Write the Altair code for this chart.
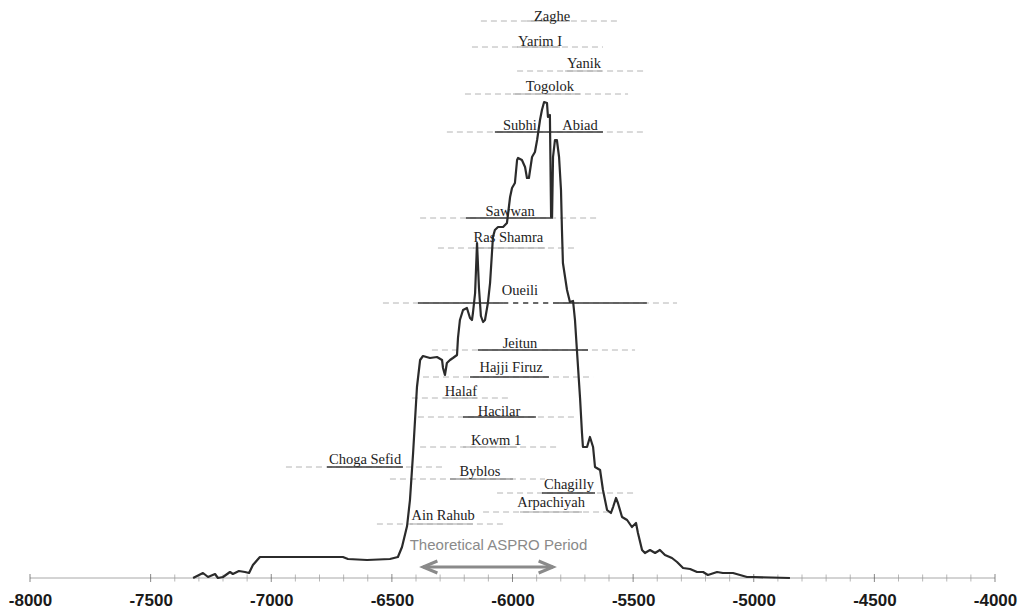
import altair as alt
import pandas as pd

# ---------------- summed probability curve (relative units) ----------------
curve_year = [-7324, -7283, -7262, -7233, -7221, -7200, -7171, -7159, -7134, -7109,
              -7092, -7076, -7047, -6964, -6798, -6703, -6682, -6603, -6508, -6475,
              -6458, -6437, -6425, -6412, -6396, -6383, -6371, -6342, -6313, -6292,
              -6288, -6280, -6272, -6259, -6247, -6230, -6226, -6218, -6205, -6189,
              -6176, -6168, -6164, -6155, -6147, -6139, -6131, -6122, -6114, -6102,
              -6093, -6081, -6073, -6060, -6039, -6023, -6010, -6002, -5990, -5981,
              -5977, -5961, -5948, -5940, -5932, -5919, -5907, -5898, -5886, -5878,
              -5869, -5857, -5853, -5845, -5840, -5836, -5832, -5824, -5816, -5807,
              -5799, -5795, -5791, -5774, -5762, -5749, -5741, -5733, -5720, -5712,
              -5708, -5691, -5679, -5666, -5658, -5637, -5625, -5608, -5592, -5583,
              -5571, -5563, -5546, -5525, -5505, -5488, -5480, -5463, -5451, -5430,
              -5409, -5389, -5368, -5339, -5318, -5293, -5264, -5235, -5210, -5190,
              -5152, -5128, -5086, -5057, -5028, -5003, -4850]
curve_value = [0, 5, 1, 4, 0, 1, 6, 4, 7, 6,
               5, 13, 21, 21, 21, 21, 19, 18, 19, 21,
               31, 52, 78, 125, 191, 218, 222, 220, 221, 218,
               210, 203, 215, 218, 220, 223, 240, 258, 268, 270,
               260, 258, 265, 285, 335, 290, 262, 256, 258, 275,
               295, 341, 348, 351, 351, 355, 381, 390, 395, 418,
               420, 418, 411, 400, 400, 421, 426, 438, 458, 468,
               476, 475, 461, 463, 361, 361, 421, 438, 438, 421,
               388, 348, 315, 288, 276, 277, 258, 228, 180, 145,
               131, 131, 141, 131, 111, 108, 88, 68, 65, 71,
               80, 75, 61, 58, 51, 55, 45, 28, 25, 28,
               25, 28, 23, 20, 16, 10, 9, 6, 6, 3,
               6, 5, 5, 3, 1, 1, 0]

# ---------------- sites: full (dashed) ranges ----------------
site_names = ["Zaghe", "Yarim I", "Yanik", "Togolok", "Subhi Abiad", "Sawwan", "Ras Shamra",
              "Oueili", "Jeitun", "Hajji Firuz", "Halaf", "Hacilar", "Kowm 1", "Choga Sefid",
              "Byblos", "Chagilly", "Arpachiyah", "Ain Rahub"]
site_level = [557, 531, 507, 484, 446, 360, 330, 275, 228, 201, 180, 161, 131, 111, 99, 85, 66, 54]
range_start = [-6131, -6168, -5981, -6197, -6272, -6383, -6309, -6537, -6334, -6371,
               -6417, -6392, -6383, -6939, -6508, -6064, -6122, -6562]
range_end = [-5567, -5625, -5443, -5521, -5443, -5637, -5741, -5318, -5492, -5666,
             -6019, -5729, -5803, -6280, -5865, -5492, -5596, -6039]

# ---------------- sites: core (solid) ranges ----------------
core_site = ["Zaghe", "Yarim I", "Yanik", "Togolok", "Subhi Abiad", "Sawwan", "Ras Shamra",
             "Oueili", "Oueili", "Jeitun", "Hajji Firuz", "Halaf", "Hacilar", "Kowm 1",
             "Choga Sefid", "Byblos", "Chagilly", "Arpachiyah", "Ain Rahub"]
core_start = [-5940, -5981, -5782, -5998, -6073, -6193, -6164, -6392, -5832, -6143,
              -6176, -6288, -6205, -6205, -6769, -6259, -5878, -5969, -6425]
core_end = [-5762, -5803, -5629, -5720, -5625, -5832, -5865, -6039, -5443, -5687,
            -5849, -6147, -5903, -5981, -6454, -5998, -5658, -5712, -6164]
core_tone = ["light", "light", "light", "light", "dark", "dark", "light", "dark", "dark", "dark",
             "dark", "light", "dark", "light", "dark", "mid", "dark", "light", "light"]

# Oueili uncertain gap (dark dashed)
gap_site = ["Oueili"]
gap_start = [-6039]
gap_end = [-5832]

# ---------------- site labels ----------------
label_text = ["Zaghe", "Yarim I", "Yanik", "Togolok", "Subhi", "Abiad", "Sawwan", "Ras  Shamra",
              "Oueili", "Jeitun", "Hajji Firuz", "Halaf", "Hacilar", "Kowm 1", "Choga Sefid",
              "Byblos", "Chagilly", "Arpachiyah", "Ain Rahub"]
label_year = [-5836, -5886, -5704, -5845, -5969, -5720, -6010, -6017, -5969, -5969,
              -6006, -6214, -6056, -6068, -6611, -6135, -5766, -5840, -6288]
label_level = [557, 532, 510, 487, 448, 448, 362, 336, 283, 230, 206,
               182, 162, 133, 114, 102, 89, 71, 58]

# ---------------- theoretical period ----------------
aspro_label = "Theoretical ASPRO Period"
aspro_start = -6371
aspro_end = -5832
aspro_text_year = -6058
aspro_text_level = 33
aspro_arrow_level = 11

# ---------------- axis ticks ----------------
major_ticks = [-8000, -7500, -7000, -6500, -6000, -5500, -5000, -4500, -4000]
minor_ticks = [y for y in range(-7400, -4000, 100) if y % 500 != 0]

# ---------------- build tables ----------------
lvl = dict(zip(site_names, site_level))
curve_df = pd.DataFrame({"year": curve_year, "value": curve_value})
range_df = pd.DataFrame({"site": site_names, "start": range_start, "end": range_end, "level": site_level})
core_df = pd.DataFrame({"site": core_site, "start": core_start, "end": core_end, "tone": core_tone,
                        "level": [lvl[s] for s in core_site]})
gap_df = pd.DataFrame({"start": gap_start, "end": gap_end, "level": [lvl[s] for s in gap_site]})
label_df = pd.DataFrame({"text": label_text, "year": label_year, "level": label_level})
aspro_df = pd.DataFrame({"text": [aspro_label], "year": [aspro_text_year], "level": [aspro_text_level]})
arrow_df = pd.DataFrame({"start": [aspro_start], "end": [aspro_end], "level": [aspro_arrow_level]})
left_head_df = pd.DataFrame({"year": [aspro_start], "level": [aspro_arrow_level]})
right_head_df = pd.DataFrame({"year": [aspro_end], "level": [aspro_arrow_level]})
major_df = pd.DataFrame({"year": major_ticks, "level": [0] * len(major_ticks)})
minor_df = pd.DataFrame({"year": minor_ticks, "level": [0] * len(minor_ticks)})
axis_df = pd.DataFrame({"start": [major_ticks[0]], "end": [major_ticks[-1]], "level": [0]})

xscale = alt.Scale(domain=[-8000, -4000], nice=False, zero=False)
yscale = alt.Scale(domain=[0, 565], nice=False, zero=False)

x_axis = alt.Axis(values=major_ticks, labelExpr="'' + datum.value", labelFont="Liberation Sans",
                  labelFontSize=17, labelFontWeight="bold", labelColor="#1a1a1a",
                  ticks=False, tickSize=0, domain=False, grid=False, title=None,
                  labelPadding=14, labelFlush=False, labelOverlap=False)


def X(field):
    return alt.X(field, scale=xscale, axis=x_axis)


Y = alt.Y("level:Q", scale=yscale, axis=None)

axis_line = alt.Chart(axis_df).mark_rule(color="#a8a8a8", strokeWidth=1).encode(
    x=X("start:Q"), x2="end:Q", y=Y)

minor = alt.Chart(minor_df).mark_tick(orient="vertical", thickness=1, size=7, color="#9a9a9a").encode(
    x=X("year:Q"), y=Y)
major = alt.Chart(major_df).mark_tick(orient="vertical", thickness=1, size=8, color="#555555").encode(
    x=X("year:Q"), y=Y)

dashed = alt.Chart(range_df).mark_rule(strokeDash=[6, 4], color="#b4b4b4", strokeWidth=1).encode(
    x=X("start:Q"), x2="end:Q", y=Y)

tone_color = {"dark": "#3a3a3a", "mid": "#6e6e6e", "light": "#a6a6a6"}
tone_width = {"dark": 1.4, "mid": 1.2, "light": 1.2}
core_layers = [
    alt.Chart(core_df[core_df["tone"] == t]).mark_rule(color=tone_color[t], strokeWidth=tone_width[t]).encode(
        x=X("start:Q"), x2="end:Q", y=Y)
    for t in ["light", "mid", "dark"]
]

gap = alt.Chart(gap_df).mark_rule(strokeDash=[5, 5], color="#444444", strokeWidth=1.4).encode(
    x=X("start:Q"), x2="end:Q", y=Y)

curve = alt.Chart(curve_df).mark_line(color="#2b2b2b", strokeWidth=2.2, strokeJoin="round").encode(
    x=X("year:Q"), y=alt.Y("value:Q", scale=yscale, axis=None))

labels = alt.Chart(label_df).mark_text(font="Liberation Serif", fontSize=14.5, color="#222222",
                                       align="center", baseline="alphabetic").encode(
    x=X("year:Q"), y=Y, text="text:N")

aspro_text = alt.Chart(aspro_df).mark_text(font="Liberation Sans", fontSize=15, color="#8a8a8a",
                                           align="center", baseline="middle").encode(
    x=X("year:Q"), y=Y, text="text:N")

arrow = alt.Chart(arrow_df).mark_rule(color="#8a8a8a", strokeWidth=3).encode(
    x=X("start:Q"), x2="end:Q", y=Y)

left_head = alt.Chart(left_head_df).mark_point(
    shape="M2.4,-1L0,0L2.4,1", filled=False, size=144, strokeWidth=3, color="#8a8a8a", opacity=1
).encode(x=X("year:Q"), y=Y)
right_head = alt.Chart(right_head_df).mark_point(
    shape="M-2.4,-1L0,0L-2.4,1", filled=False, size=144, strokeWidth=3, color="#8a8a8a", opacity=1
).encode(x=X("year:Q"), y=Y)

chart = alt.layer(axis_line, minor, major, dashed, *core_layers, gap, curve, labels, aspro_text,
                  arrow, left_head, right_head).properties(
    width=965, height=565,
    padding={"left": 22, "top": 5, "right": 23, "bottom": 32},
    autosize=alt.AutoSizeParams(type="none"),
    background="white",
).configure_view(stroke=None)

chart.save("out.html", embed_options={"renderer": "svg", "actions": False})
